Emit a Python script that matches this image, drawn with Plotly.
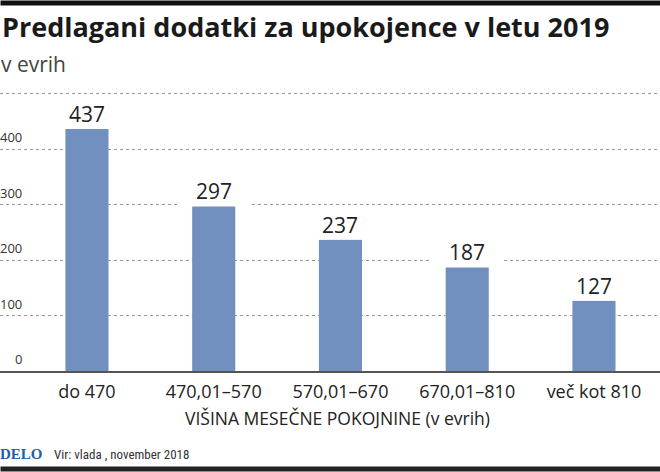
import plotly.graph_objs as go

# data
categories = ['do 470', '470,01–570', '570,01–670', '670,01–810', 'več kot 810']
dodatki = [437, 297, 237, 187, 127]
y_ticks = [0, 100, 200, 300, 400]
y_grid = [100, 200, 300, 400, 500]

title_text = '<b>Predlagani dodatki za upokojence v letu 2019</b>'
subtitle_text = 'v evrih'
axis_title_text = 'VIŠINA MESEČNE POKOJNINE (v evrih)'
source_text = 'Vir: vlada , november 2018'

font_main = 'Open Sans, Noto Sans, sans-serif'
bar_color = '#7190bf'
text_color = '#222222'

# plot area runs from pixel 92 (top) to 371 (baseline)
plot_top, plot_bottom = 92, 371
plot_h = plot_bottom - plot_top


def py(pix):
    # page pixel row -> paper y
    return (plot_bottom - pix) / plot_h


x_pos = list(range(len(categories)))

graph = []
graph.append(
    go.Bar(
        x=x_pos,
        y=dodatki,
        width=0.34,
        marker=dict(color=bar_color, line=dict(width=0)),
        hoverinfo='skip',
    )
)

annotations = []

# value labels with white box that cuts the dotted gridlines
for xi, v in zip(x_pos, dodatki):
    annotations.append(dict(
        x=xi, y=v, xref='x', yref='y',
        text=str(v), showarrow=False,
        xanchor='center', yanchor='bottom',
        width=70, height=30, valign='bottom',
        bgcolor='white', borderpad=0,
        font=dict(family=font_main, size=21, color=text_color),
    ))

# y tick labels sitting above the gridlines
for t in y_ticks:
    annotations.append(dict(
        x=24 / 660, y=t, xref='paper', yref='y',
        text=str(t), showarrow=False,
        xanchor='right', yanchor='bottom', yshift=1,
        font=dict(family=font_main, size=13, color='#333333'),
    ))

# axis title
annotations.append(dict(
    x=337 / 660, y=py(418), xref='paper', yref='paper',
    text=axis_title_text, showarrow=False,
    xanchor='center', yanchor='middle',
    font=dict(family=font_main, size=17.5, color=text_color),
))

# subtitle
annotations.append(dict(
    x=0, y=py(64), xref='paper', yref='paper',
    text=subtitle_text, showarrow=False,
    xanchor='left', yanchor='middle', xshift=-1,
    font=dict(family=font_main, size=21, color='#444444'),
))

# footer
annotations.append(dict(
    x=0, y=py(454), xref='paper', yref='paper',
    text='<b>DELO</b>', showarrow=False,
    xanchor='left', yanchor='middle', xshift=-2,
    font=dict(family='Liberation Serif, DejaVu Serif, serif', size=15, color='#1f5ea8'),
))
annotations.append(dict(
    x=52 / 660, y=py(454), xref='paper', yref='paper',
    text=source_text, showarrow=False,
    xanchor='left', yanchor='middle',
    font=dict(family='Liberation Sans Narrow, Roboto Condensed, Roboto, sans-serif', size=13, color='#333333'),
))

# top and bottom black rules as filled boxes
annotations.append(dict(
    x=0, y=py(0), xref='paper', yref='paper', text=' ', showarrow=False,
    xanchor='left', yanchor='top', width=660, height=4, borderpad=0,
    bgcolor='#111111', font=dict(size=2),
))
annotations.append(dict(
    x=0, y=py(466), xref='paper', yref='paper', text=' ', showarrow=False,
    xanchor='left', yanchor='top', width=660, height=4, borderpad=0,
    bgcolor='#222222', font=dict(size=2),
))

layout = dict(
    width=660, height=472,
    margin=dict(l=0, r=0, t=plot_top, b=472 - plot_bottom, pad=0),
    paper_bgcolor='white', plot_bgcolor='white',
    showlegend=False,
    title=dict(text=title_text, x=0.003, xanchor='left',
               y=1 - 28 / 472, yanchor='middle', xref='container', yref='container',
               font=dict(family=font_main, size=27, color='#1a1a1a')),
    xaxis=dict(
        range=[-0.686, 4.521],
        tickvals=x_pos, ticktext=categories,
        tickfont=dict(family=font_main, size=18, color=text_color),
        ticks='', ticklabelstandoff=3,
        showgrid=False, zeroline=False,
        showline=True, linecolor='#555555', linewidth=2,
        fixedrange=True,
    ),
    yaxis=dict(
        range=[0, 503.6],
        tickvals=y_grid, showticklabels=False,
        showgrid=True, gridcolor='#999999', gridwidth=1, griddash='dot',
        zeroline=False, showline=False,
        fixedrange=True,
    ),
    annotations=annotations,
)

fig = go.Figure(data=graph, layout=layout)
# page body has an 8px default margin, drop it so the chart sits at the corner
fig.write_html('out.html', config={'displayModeBar': False},
               post_script="document.body.style.margin='0';")
